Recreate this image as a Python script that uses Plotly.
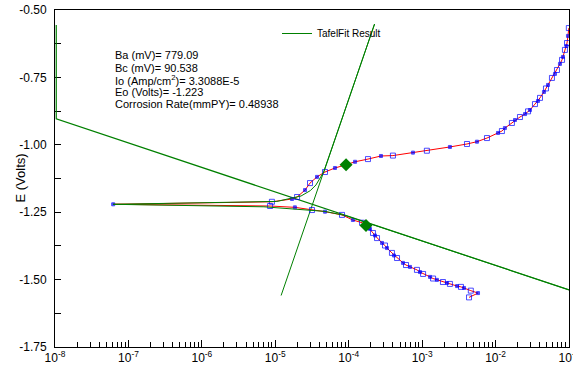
import plotly.graph_objects as go

# ---------------- data ----------------
# Measured polarization curve, in scan order (cathodic end -> anodic end)
data_i = [4.35e-3, 5.77e-3, 4.6e-3, 3.72e-3, 3.38e-3, 2.99e-3, 2.39e-3, 2.18e-3, 1.92e-3,
          1.59e-3, 1.41e-3, 1.28e-3, 1.03e-3, 9.35e-4, 8.5e-4, 6.84e-4, 6.03e-4, 5.48e-4,
          4.55e-4, 4.14e-4, 3.88e-4, 3.32e-4, 3.12e-4, 2.84e-4, 2.43e-4, 2.28e-4, 2.14e-4,
          1.95e-4, 1.83e-4, 1.72e-4, 1.52e-4, 1.14e-4, 8.1e-5, 4.75e-5, 3.16e-5, 1.85e-5,
          8.5e-6, 6.2e-8,
          9.0e-6, 1.69e-5, 1.98e-5, 2.54e-5, 2.97e-5, 3.70e-5, 4.75e-5, 6.5e-5, 9.2e-5,
          1.22e-4, 1.83e-4, 2.75e-4, 4.0e-4, 7.5e-4, 1.16e-3, 2.39e-3, 4.08e-3, 5.58e-3,
          7.64e-3, 1.08e-2, 1.22e-2, 1.34e-2, 1.67e-2, 1.84e-2, 2.15e-2, 2.52e-2, 2.77e-2,
          2.94e-2, 3.44e-2, 3.78e-2, 4.03e-2, 4.56e-2, 4.86e-2, 5.18e-2, 5.86e-2, 6.44e-2,
          6.86e-2, 7.53e-2, 8.04e-2, 8.28e-2, 8.81e-2, 9.25e-2, 9.4e-2, 9.68e-2, 9.95e-2]
data_E = [-1.566, -1.550, -1.541, -1.531, -1.527, -1.524, -1.516, -1.5126, -1.509,
          -1.501, -1.496, -1.490, -1.479, -1.472, -1.464, -1.453, -1.446, -1.438,
          -1.420, -1.4106, -1.401, -1.383, -1.3735, -1.364, -1.346, -1.3364, -1.327,
          -1.312, -1.305, -1.299, -1.289, -1.279, -1.260, -1.248, -1.242, -1.232,
          -1.227, -1.2207,
          -1.2114, -1.201, -1.1936, -1.168, -1.142, -1.119, -1.101, -1.086, -1.074,
          -1.063, -1.053, -1.0415, -1.040, -1.029, -1.022, -1.008, -0.997, -0.9885,
          -0.975, -0.956, -0.949, -0.938, -0.919, -0.908, -0.897, -0.886, -0.876,
          -0.871, -0.849, -0.8375, -0.826, -0.804, -0.791, -0.778, -0.752, -0.737,
          -0.7225, -0.700, -0.685, -0.674, -0.648, -0.6335, -0.6224, -0.596, -0.567]

# Tafel fit: anodic line, cathodic line (clipped at the left axis), fitted curve
anodic_i = [1.20e-5, 2.25e-4]
anodic_E = [-1.559, -0.552]
cathodic_i = [1.04e-8, 1.04e-8, 1.0e-1]
cathodic_E = [-0.556, -0.904, -1.538]
fit_i = [1.0e-1, 8.9e-5, 4.75e-5, 1.98e-5, 7.0e-6, 6.2e-8, 1.05e-5, 2.24e-5, 3.0e-5,
         3.58e-5, 4.6e-5, 2.25e-4]
fit_E = [-1.538, -1.262, -1.247, -1.238, -1.230, -1.2207, -1.210, -1.190, -1.170,
         -1.149, -1.0994, -0.552]

# Fit-region markers (green diamonds)
mark_i = [9.2e-5, 1.72e-4]
mark_E = [-1.074, -1.299]

legend_name = "TafelFit Result"
result_lines = ["Ba (mV)= 779.09",
                "Bc (mV)= 90.538",
                "Io (Amp/cm<sup>2</sup>)= 3.3088E-5",
                "Eo (Volts)= -1.223",
                "Corrosion Rate(mmPY)= 0.48938"]

x_tick_vals = [1e-8, 1e-7, 1e-6, 1e-5, 1e-4, 1e-3, 1e-2, 0.09999]
x_tick_text = ["10<sup>-8</sup>", "10<sup>-7</sup>", "10<sup>-6</sup>", "10<sup>-5</sup>",
               "10<sup>-4</sup>", "10<sup>-3</sup>", "10<sup>-2</sup>", "10<sup>-1</sup>"]
y_tick_vals = [-1.75, -1.50, -1.25, -1.00, -0.75, -0.50]
y_tick_text = ["-1.75", "-1.50", "-1.25", "-1.00", "-0.75", "-0.50"]

# ---------------- figure ----------------
FONT = "Liberation Sans, Arial, sans-serif"
GREEN = "#008000"

fig = go.Figure()

fig.add_trace(go.Scatter(x=anodic_i, y=anodic_E, mode="lines",
                         line=dict(color=GREEN, width=1), name=legend_name,
                         legendgroup="fit", showlegend=True))
fig.add_trace(go.Scatter(x=cathodic_i, y=cathodic_E, mode="lines",
                         line=dict(color=GREEN, width=1.2), legendgroup="fit",
                         showlegend=False))

symbols = ["square-open" if k % 2 == 0 else "square" for k in range(len(data_i))]
sizes = [5 if k % 2 == 0 else 3 for k in range(len(data_i))]
fig.add_trace(go.Scatter(x=data_i, y=data_E, mode="lines+markers",
                         line=dict(color="#ff0000", width=1),
                         marker=dict(symbol=symbols, size=sizes, color="#0000ff",
                                     line=dict(color="#0000ff", width=1)),
                         showlegend=False))

fig.add_trace(go.Scatter(x=fit_i, y=fit_E, mode="lines",
                         line=dict(color=GREEN, width=1), legendgroup="fit",
                         showlegend=False))

fig.add_trace(go.Scatter(x=mark_i, y=mark_E, mode="markers",
                         marker=dict(symbol="diamond", size=10, color=GREEN),
                         showlegend=False))

minor_x = [k * 10.0 ** e for e in range(-8, -1) for k in range(2, 10)]

fig.update_xaxes(type="log", range=[-8, -0.9999], showline=True, linecolor="black",
                 linewidth=1, mirror=True, ticks="inside", ticklen=7,
                 tickcolor="black", tickmode="array", tickvals=x_tick_vals,
                 ticktext=x_tick_text, tickfont=dict(family=FONT, size=12, color="black"),
                 ticklabeloverflow="allow", automargin=False,
                 showgrid=False, zeroline=False, layer="below traces",
                 minor=dict(ticks="inside", ticklen=5, tickcolor="black",
                            tickmode="array", tickvals=minor_x, showgrid=False))
fig.update_yaxes(range=[-1.75, -0.5], showline=True, linecolor="black", linewidth=1,
                 mirror=True, ticks="inside", ticklen=6, tickcolor="black",
                 tickmode="array", tickvals=y_tick_vals, ticktext=y_tick_text,
                 tickfont=dict(family=FONT, size=12, color="black"),
                 ticklabeloverflow="allow", automargin=False,
                 showgrid=False, zeroline=False, layer="below traces",
                 ticklabelstandoff=5,
                 minor=dict(ticks="inside", ticklen=6, tickcolor="black",
                            dtick=0.125, tick0=-0.5, showgrid=False))

annotations = []
line_y = [55, 68, 80, 92, 104]
for txt, py in zip(result_lines, line_y):
    annotations.append(dict(text=txt, xref="paper", yref="paper",
                            x=(113 - 55) / 514, y=1 - (py - 10) / 337,
                            xanchor="left", yanchor="middle", showarrow=False,
                            font=dict(family=FONT, size=11, color="black")))
annotations.append(dict(text="E (Volts)", xref="paper", yref="paper",
                        x=(20 - 55) / 514, y=0.5, textangle=-90,
                        xanchor="center", yanchor="middle", showarrow=False,
                        font=dict(family=FONT, size=13, color="black")))

fig.update_layout(width=573, height=371,
                  margin=dict(l=55, r=4, t=10, b=24, pad=0, autoexpand=False),
                  paper_bgcolor="white", plot_bgcolor="white",
                  font=dict(family=FONT, color="black"),
                  showlegend=True,
                  legend=dict(x=(277 - 55) / 514, y=1 - (19 - 10) / 337,
                              xanchor="left", yanchor="top",
                              bgcolor="rgba(0,0,0,0)", borderwidth=0,
                              font=dict(family=FONT, size=10, color="black"),
                              itemwidth=30),
                  annotations=annotations)

fig.write_html("out.html")
